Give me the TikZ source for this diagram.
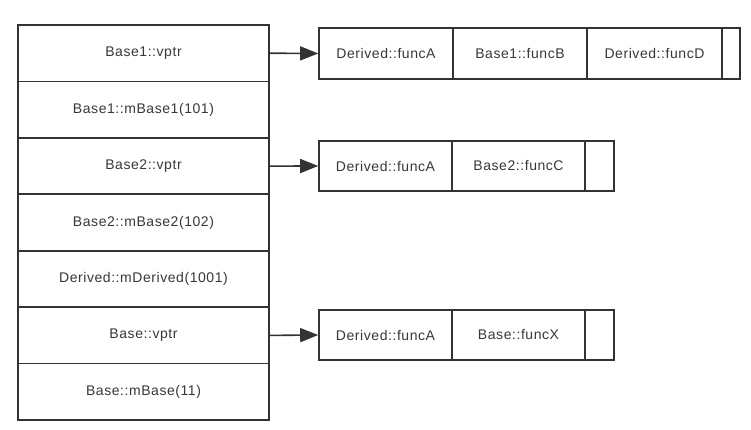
\documentclass[tikz,border=0pt]{standalone}
\usepackage{fontspec}
\setmainfont{Liberation Sans}[LetterSpace=4]
\usetikzlibrary{arrows.meta}
\definecolor{ln}{HTML}{333333}
\definecolor{tx}{HTML}{383838}
\begin{document}
\begin{tikzpicture}[x=1pt,y=-1pt,
  cell/.style={draw=ln,line width=1.6pt,inner sep=0pt,text=tx,font=\fontsize{14}{16}\selectfont,anchor=center},
  row/.style={cell,minimum width=251pt,minimum height=56.4pt},
  vt/.style={cell,minimum height=50.5pt},
  ptr/.style={draw=ln,line width=1.6pt,-{Triangle[length=18pt,width=14pt]}}]
\fill[white] (0,0) rectangle (751,430);
\useasboundingbox (0,0) rectangle (751,430);
% object layout
\node[row] (r1) at (143.5,53.2) {Base1::vptr};
\node[row] (r2) at (143.5,109.6) {Base1::mBase1(101)};
\node[row] (r3) at (143.5,166.1) {Base2::vptr};
\node[row] (r4) at (143.5,222.5) {Base2::mBase2(102)};
\node[row] (r5) at (143.5,278.9) {Derived::mDerived(1001)};
\node[row] (r6) at (143.5,335.4) {Base::vptr};
\node[row] (r7) at (143.5,391.8) {Base::mBase(11)};
% vtable 1
\node[vt,minimum width=134pt] (a1) at (386,53.5) {Derived::funcA};
\node[vt,minimum width=134pt] (a2) at (520,53.5) {Base1::funcB};
\node[vt,minimum width=135pt] (a3) at (654.5,53.5) {Derived::funcD};
\node[vt,minimum width=18pt] (a4) at (731,53.5) {};
% vtable 2
\node[vt,minimum width=133pt] (b1) at (385.5,166) {Derived::funcA};
\node[vt,minimum width=133pt] (b2) at (518.5,166) {Base2::funcC};
\node[vt,minimum width=29pt] (b3) at (599.5,166) {};
% vtable 3
\node[vt,minimum width=133pt] (c1) at (385.5,335) {Derived::funcA};
\node[vt,minimum width=133pt] (c2) at (518.5,335) {Base::funcX};
\node[vt,minimum width=29pt] (c3) at (599.5,335) {};
% pointers
\draw[ptr] (r1.east) -- (a1.west);
\draw[ptr] (r3.east) -- (b1.west);
\draw[ptr] (r6.east) -- (c1.west);
\end{tikzpicture}
\end{document}
